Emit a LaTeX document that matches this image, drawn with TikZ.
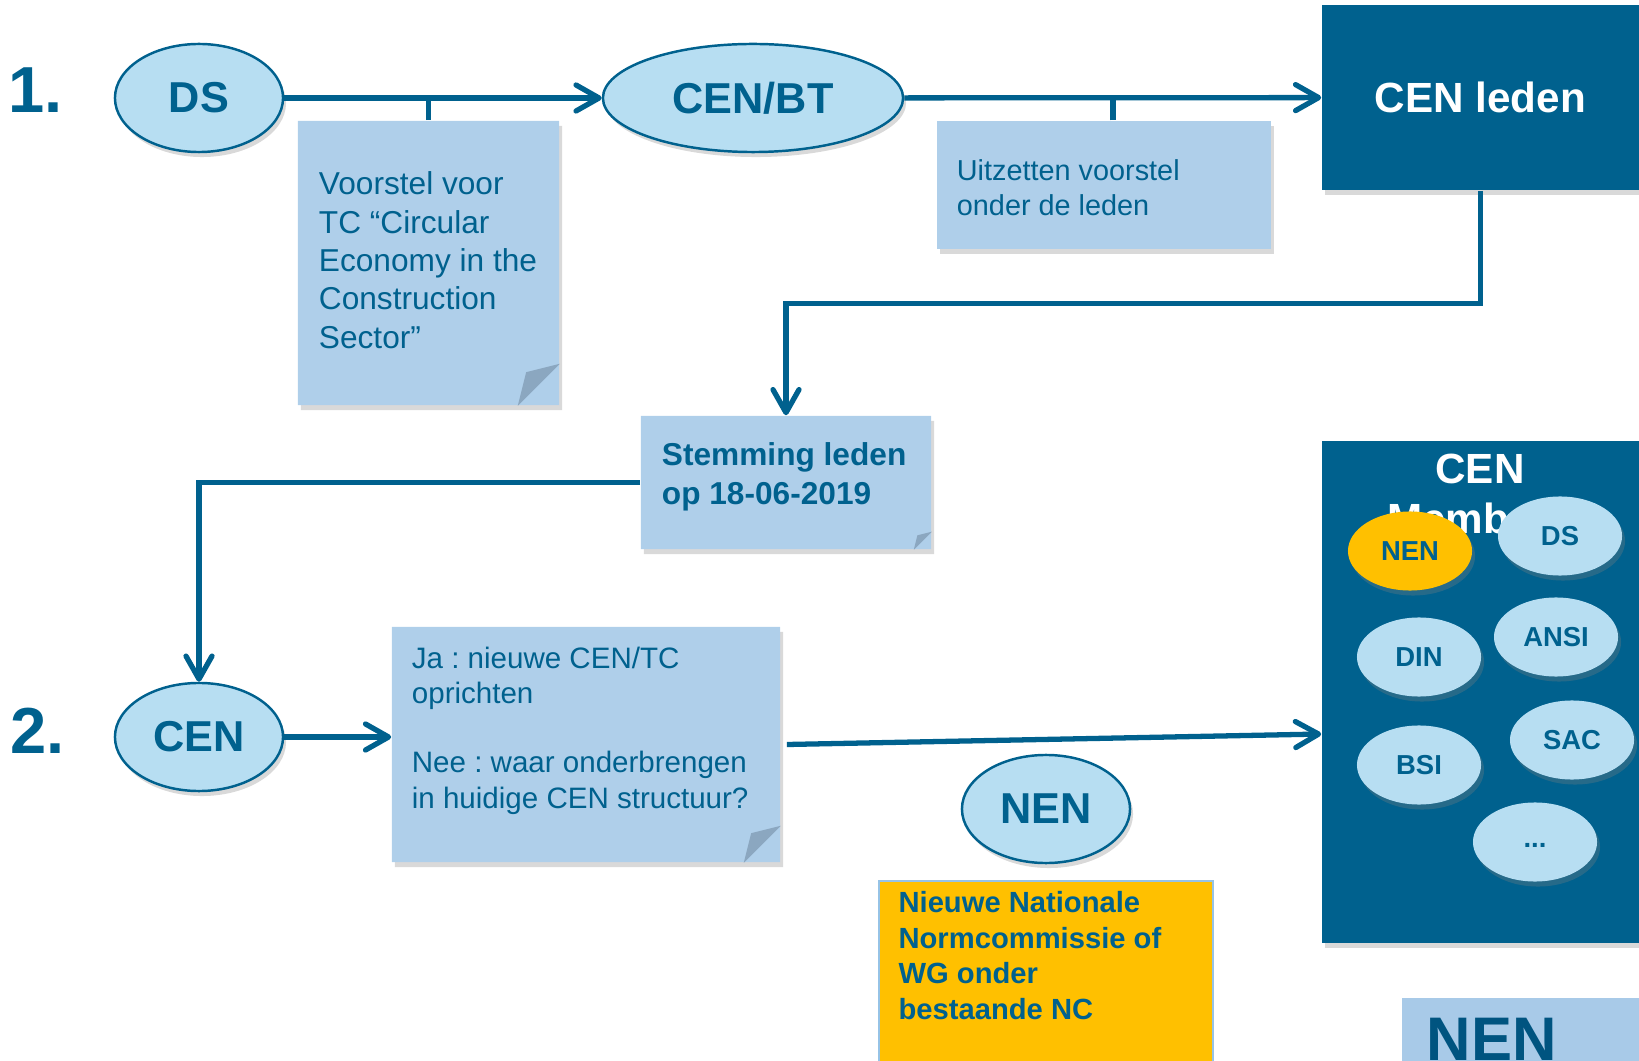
\documentclass[tikz,border=0pt]{standalone}
\usepackage{fontspec}
\setmainfont{Liberation Sans}
\frenchspacing
\usetikzlibrary{shapes.geometric,shapes.misc,shadows,arrows.meta,positioning}
\definecolor{dblue}{RGB}{0,97,142}
\definecolor{logoblue}{RGB}{0,84,128}
\definecolor{ellfill}{RGB}{183,222,242}
\definecolor{notefill}{RGB}{175,207,234}
\definecolor{foldfill}{RGB}{139,167,192}
\definecolor{nenyellow}{RGB}{255,192,0}
\definecolor{logofill}{RGB}{168,202,232}
\definecolor{ncline}{RGB}{150,195,230}
\tikzset{
	shad/.style={drop shadow={opacity=0.3,shadow xshift=0.03cm,shadow yshift=-0.05cm}},
	ell/.style={ellipse,draw=dblue,line width=0.7pt,fill=ellfill,shad,minimum width=1.68cm,minimum height=1.08cm,inner sep=0pt,text=dblue,font=\bfseries\fontsize{12.3}{14}\selectfont},
	mem/.style={ellipse,fill=ellfill,shad,minimum width=1.24cm,minimum height=0.79cm,inner sep=0pt,text=dblue,font=\bfseries\fontsize{7.8}{9}\selectfont},
	note/.style={chamfered rectangle,chamfered rectangle corners=south east,chamfered rectangle xsep=#1,fill=notefill,shad,inner sep=0pt},
	plainbox/.style={rectangle,fill=notefill,shad,inner sep=0pt},
	darkbox/.style={rectangle,fill=dblue,shad,inner sep=0pt,text=white},
	notetxt/.style={anchor=north west,inner sep=0pt,align=left,text=dblue},
	link/.style={draw=dblue,line width=1.5pt},
	arr/.style={link,-{Straight Barb[length=2.3mm,width=2.6mm,line cap=round,line join=round]}},
	num/.style={anchor=north west,inner sep=0pt,text=dblue,font=\bfseries\fontsize{18.5}{20}\selectfont}
}
\newcommand{\foldcorner}[2]{%
	\coordinate (#1se) at (#1.south -| #1.east);
	\fill[foldfill] ([yshift=#2]#1se) -- ([xshift=-#2]#1se) -- ([xshift=-0.8*#2,yshift=0.8*#2]#1se) -- cycle;}
\begin{document}
\begin{tikzpicture}[x=0.01cm,y=-0.01cm]
	\useasboundingbox (0,0) rectangle (1639,1061);
	\clip (0,0) rectangle (1639,1061);
	\node[num] (one) at (8,67) {1.};
	\node[num] (two) at (10,707) {2.};
	\node[ell] (ds) at (199,98) {DS};
	\node[ell,minimum width=3cm] (cenbt) at (753,98) {CEN/BT};
	\node[darkbox,minimum width=3.17cm,minimum height=1.85cm,font=\bfseries\fontsize{12}{14}\selectfont] (cenleden) at (1480.5,97.5) {CEN leden};
	\node[note=0.42cm,minimum width=2.61cm,minimum height=2.84cm] (voorstel) at (428.5,263) {};
	\foldcorner{voorstel}{0.42cm}
	\node[notetxt,font=\fontsize{9}{10.9}\selectfont,below right=0.51cm and 0.21cm of voorstel.north west] (voorsteltxt) {Voorstel voor\\TC “Circular\\Economy in the\\Construction\\Sector”};
	\node[plainbox,minimum width=3.34cm,minimum height=1.28cm] (uitzetten) at (1104,185) {};
	\node[notetxt,font=\fontsize{8.2}{9.8}\selectfont,below right=0.39cm and 0.2cm of uitzetten.north west] (uitzettentxt) {Uitzetten voorstel\\onder de leden};
	\node[note=0.18cm,minimum width=2.9cm,minimum height=1.33cm] (stemming) at (786,482.5) {};
	\foldcorner{stemming}{0.18cm}
	\node[notetxt,font=\bfseries\fontsize{9}{11}\selectfont,below right=0.27cm and 0.21cm of stemming.north west] (stemmingtxt) {Stemming leden\\op 18-06-2019};
	\node[ell] (cen) at (199,737) {CEN};
	\node[note=0.37cm,minimum width=3.88cm,minimum height=2.35cm] (janee) at (586,744.5) {};
	\foldcorner{janee}{0.37cm}
	\node[notetxt,font=\fontsize{8.4}{10.1}\selectfont,below right=0.2cm and 0.2cm of janee.north west] (janeetxt) {Ja : nieuwe CEN/TC\\oprichten\\[9.5pt]Nee : waar onderbrengen\\in huidige CEN structuur?};
	\node[ell] (nen) at (1046,809) {NEN};
	\node[rectangle,draw=ncline,line width=0.6pt,fill=nenyellow,minimum width=3.34cm,minimum height=1.9cm] (nc) at (1046,976) {};
	\node[notetxt,font=\bfseries\fontsize{8.3}{10.1}\selectfont,below right=0.11cm and 0.2cm of nc.north west] (nctxt) {Nieuwe Nationale\\Normcommissie of\\WG onder\\bestaande NC};
	\node[darkbox,minimum width=3.17cm,minimum height=5.02cm] (members) at (1480.5,692) {};
	\node[anchor=north,inner sep=0pt,align=center,text=white,font=\bfseries\fontsize{12}{14.2}\selectfont] (memberstitle) at (1480,453) {CEN\\Members};
	\node[mem,fill=nenyellow] (mnen) at (1410,551) {NEN};
	\node[mem] (mds) at (1560,536) {DS};
	\node[mem] (mdin) at (1419,657) {DIN};
	\node[mem] (mansi) at (1556,637) {ANSI};
	\node[mem] (msac) at (1572,740) {SAC};
	\node[mem] (mbsi) at (1419,765) {BSI};
	\node[mem] (mmore) at (1535,842) {\raisebox{-3pt}{...}};
	\node[rectangle,fill=logofill,minimum width=2.56cm,minimum height=0.84cm] (logo) at (1530,1040) {};
	\node[anchor=north west,inner sep=0pt,text=logoblue,font=\bfseries\fontsize{17.5}{20}\selectfont] (logotxt) at (1426,1017) {NEN};
	\draw[arr] (ds) -- (cenbt);
	\draw[link] (voorstel.north) -- (voorstel.north |- ds.east);
	\draw[arr] (cenbt) -- (cenleden);
	\coordinate (tick) at ([xshift=0.09cm]uitzetten.north);
	\draw[link] (tick) -- (tick |- cenbt.east);
	\draw[arr] (cenleden.south) -- ++(0,113) -| (stemming.north);
	\draw[arr] (stemming.west) -| (cen.north);
	\draw[arr] (cen) -- (cen -| janee.west);
	\coordinate (membin) at ([yshift=-0.42cm]members.west);
	\draw[arr] ([xshift=0.06cm]janee.east) -- (membin);
\end{tikzpicture}
\end{document}
